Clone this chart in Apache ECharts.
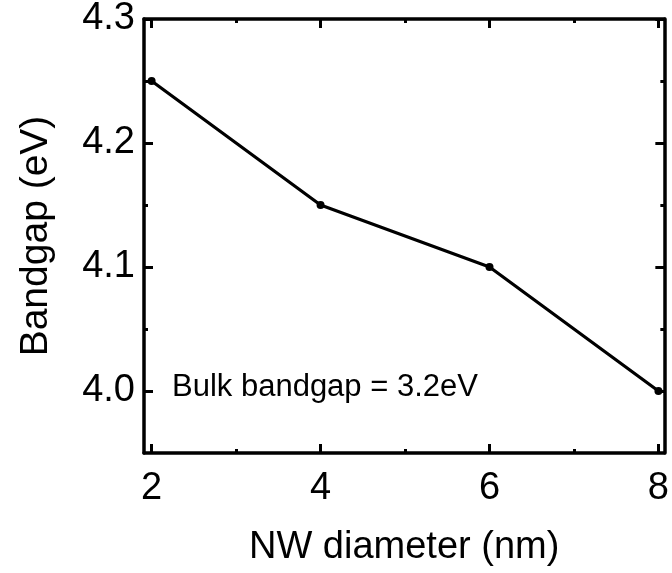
<!DOCTYPE html>
<html>
<head>
<meta charset="utf-8">
<script src="https://cdn.jsdelivr.net/npm/echarts@6/dist/echarts.min.js"></script>
<style>
  html, body { margin: 0; padding: 0; background: #fff; }
  #chart { width: 672px; height: 573px; }
</style>
</head>
<body>
<div id="chart"></div>
<script>
// Nanowire bandgap versus diameter
const diameters = [2, 4, 6, 8];            // nm
const bandgaps = [4.25, 4.15, 4.10, 4.00];  // eV
const xMajorTicks = [2, 4, 6, 8];
const xMinorTicks = [3, 5, 7];
const yMajorTicks = [4.0, 4.1, 4.2, 4.3];
const yMinorTicks = [4.05, 4.15, 4.25];
const xRange = [1.91, 8.07];
const yRange = [3.95, 4.3];
const xTitle = 'NW diameter (nm)';
const yTitle = 'Bandgap (eV)';
const note = 'Bulk bandgap = 3.2eV';

const FONT = '"Liberation Sans", Arial, sans-serif';
const INK = '#000';

function xAxisDef(position, ticks, tickLen, withLine, withLabels, name) {
  return {
    type: 'value', position, min: xRange[0], max: xRange[1],
    splitLine: { show: false },
    axisLine: { show: withLine, onZero: false, lineStyle: { color: INK, width: 3.5 } },
    axisTick: { show: true, inside: true, length: tickLen, customValues: ticks,
                lineStyle: { color: INK, width: 3 } },
    axisLabel: { show: withLabels, customValues: ticks, color: INK, fontSize: 38,
                 fontFamily: FONT, margin: 17 },
    name: name || '', nameLocation: 'middle', nameGap: 76,
    nameTextStyle: { color: INK, fontSize: 38, fontFamily: FONT }
  };
}
function yAxisDef(position, ticks, tickLen, withLine, withLabels, name) {
  return {
    type: 'value', position, min: yRange[0], max: yRange[1],
    splitLine: { show: false },
    axisLine: { show: withLine, onZero: false, lineStyle: { color: INK, width: 3.5 } },
    axisTick: { show: true, inside: true, length: tickLen, customValues: ticks,
                lineStyle: { color: INK, width: 3 } },
    axisLabel: { show: withLabels, customValues: ticks, color: INK, fontSize: 38,
                 fontFamily: FONT, margin: 9, formatter: v => v.toFixed(1) },
    name: name || '', nameLocation: 'middle', nameGap: 88,
    nameTextStyle: { color: INK, fontSize: 39, fontFamily: FONT }
  };
}

const chart = echarts.init(document.getElementById('chart'), null, { renderer: 'canvas' });
chart.setOption({
  animation: false,
  backgroundColor: '#fff',
  grid: { left: 144, right: 2, top: 12, bottom: 120, containLabel: false },
  xAxis: [
    xAxisDef('bottom', xMajorTicks, 9, true, true, xTitle),
    xAxisDef('bottom', xMinorTicks, 4, false, false),
    xAxisDef('top', xMajorTicks, 9, true, false),
    xAxisDef('top', xMinorTicks, 4, false, false)
  ],
  yAxis: [
    yAxisDef('left', yMajorTicks, 9, true, true, yTitle),
    yAxisDef('left', yMinorTicks, 4, false, false),
    yAxisDef('right', yMajorTicks, 9, true, false),
    yAxisDef('right', yMinorTicks, 4, false, false)
  ],
  series: [{
    type: 'line',
    xAxisIndex: 0, yAxisIndex: 0,
    data: diameters.map((d, i) => [d, bandgaps[i]]),
    symbol: 'circle', symbolSize: 8,
    lineStyle: { color: INK, width: 3.2 },
    itemStyle: { color: INK }
  }],
  graphic: [{
    type: 'text', left: 172, top: 372,
    style: { text: note, fill: INK, fontSize: 31, fontFamily: FONT }
  }]
});
</script>
</body>
</html>
